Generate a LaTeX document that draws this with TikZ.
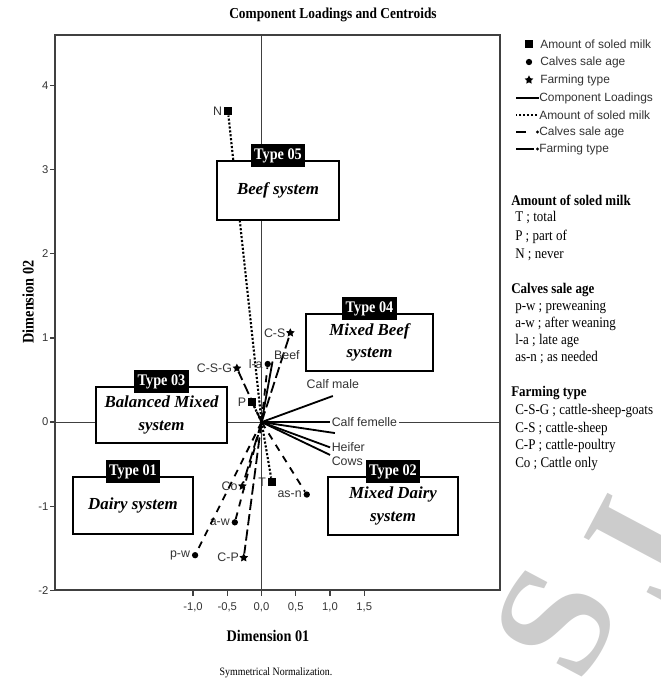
\documentclass[tikz,border=0pt]{standalone}
\usepackage{fontspec}
\setmainfont{Liberation Serif}
\setsansfont{Liberation Sans}
\newfontfamily\condserif[FakeStretch=0.88]{Liberation Serif}
\usetikzlibrary{shapes.geometric,positioning}

\tikzset{
	typebox/.style={draw, line width=1.4pt, fill=white, inner sep=0pt, align=center,
		font=\fontsize{12}{16}\selectfont\bfseries\itshape},
	typetag/.style={fill=black, text=white, inner xsep=2.5pt, inner ysep=0pt, minimum height=16pt,
		anchor=south, yshift=-5pt, font=\condserif\fontsize{11.5}{11.5}\selectfont\bfseries},
	ptlabel/.style={font=\sffamily\fontsize{8.8}{9}\selectfont, text=black!80, inner sep=1pt},
	ticktext/.style={font=\sffamily\fontsize{8}{9}\selectfont, text=black!80, inner sep=1pt},
	milkmark/.style={rectangle, fill, minimum size=5.5pt, inner sep=0pt},
	calfmark/.style={circle, fill, minimum size=4.5pt, inner sep=0pt},
	farmmark/.style={star, star points=5, star point ratio=2, fill, minimum size=6.5pt, inner sep=0pt},
	milkline/.style={line width=1.5pt, dash pattern=on 1.5pt off 1.3pt},
	calfline/.style={line width=1.3pt, dash pattern=on 5pt off 4.5pt},
	farmline/.style={line width=1.3pt, dash pattern=on 8pt off 3pt},
	loadline/.style={line width=1.3pt},
	legtext/.style={font=\sffamily\fontsize{8.5}{9}\selectfont, text=black!80, anchor=west, inner sep=0pt},
	keytext/.style={font=\condserif\fontsize{10.5}{12}\selectfont, anchor=west, inner sep=0pt},
	keyhead/.style={font=\condserif\fontsize{10.5}{12}\selectfont\bfseries, anchor=west, inner sep=0pt},
	wmark/.style={text=black!20, rotate=62, inner sep=0pt, font=\bfseries\fontsize{115}{115}\selectfont},
}

\begin{document}
\begin{tikzpicture}[x=0.025cm, y=-0.025cm]
	\useasboundingbox (0,0) rectangle (661,686);

	% WATERMARK
	\begin{scope}
		\clip (0,0) rectangle (661,686);
		\node[wmark] (wmS) at (556,622) {S};
		\node[wmark] (wmJ) at (638,550) {J};
	\end{scope}

	% TITLE
	\node[font=\condserif\fontsize{10.8}{12}\selectfont\bfseries] (title) at (333,15) {Component Loadings and Centroids};

	%% Frame
	\draw[line width=1pt, black!75] (55,35) rectangle (500,590);

	% y ticks
	\foreach \v in {-2,...,4} {
		\draw[line width=1pt, black!75] (50,{422-84.2*\v}) -- (55,{422-84.2*\v});
		\node[ticktext, anchor=east] (yt\v) at (50,{422-84.2*\v}) {\v};
	}

	% x ticks
	\foreach \v/\t [count=\i] in {-1/{-1,0},-0.5/{-0,5},0/{0,0},0.5/{0,5},1/{1,0},1.5/{1,5}} {
		\draw[line width=1pt, black!75] ({261.5+68.5*\v},590) -- ({261.5+68.5*\v},596);
		\node[ticktext, anchor=north] (xt\i) at ({261.5+68.5*\v},601) {\t};
	}

	% AXIS NAMES
	\node[rotate=90, font=\condserif\fontsize{11.5}{12}\selectfont\bfseries] (dim2) at (28,302) {Dimension 02};
	\node[font=\condserif\fontsize{11.5}{12}\selectfont\bfseries] (dim1) at (268,636) {Dimension 01};
	\node[font=\condserif\fontsize{8}{9}\selectfont] (norm) at (276,673) {Symmetrical Normalization.};

	%%% DATA - one unit = one dimension step
	\begin{scope}[shift={(6.5375cm,-10.55cm)}, x=1.7125cm, y=2.105cm]
		\coordinate (o) at (0,0);

		% reference lines
		\draw[line width=0.8pt, black!75] (0,-2) -- (0,4.6);
		\draw[line width=0.8pt, black!75] (-3.01,0) -- (3.47,0);

		% Amount of soled milk
		\node[milkmark] (mN) at (-0.49,3.69) {};
		\node[milkmark] (mP) at (-0.14,0.24) {};
		\node[milkmark] (mT) at (0.15,-0.71) {};
		\node[ptlabel, left=0pt of mN] (tN) {N};
		\node[ptlabel, left=0pt of mP] (tP) {P};
		\node[ptlabel, left=0pt of mT] (tT) {T};
		\draw[milkline] (o) -- (mN);
		\draw[milkline] (o) -- (mP);
		\draw[milkline] (o) -- (mT);

		% Calves sale age
		\node[calfmark] (mpw) at (-0.97,-1.58) {};
		\node[calfmark] (maw) at (-0.39,-1.19) {};
		\node[calfmark] (mla) at (0.09,0.69) {};
		\node[calfmark] (masn) at (0.66,-0.86) {};
		\node[ptlabel, left=0pt of mpw] (tpw) {p-w};
		\node[ptlabel, left=0pt of maw] (taw) {a-w};
		\node[ptlabel, left=0pt of mla] (tla) {l-a};
		\node[ptlabel, left=0pt of masn] (tasn) {as-n};
		\draw[calfline] (o) -- (mpw);
		\draw[calfline] (o) -- (maw);
		\draw[calfline] (o) -- (mla);
		\draw[calfline] (o) -- (masn);

		% Farming type
		\node[farmmark] (mcsg) at (-0.36,0.64) {};
		\node[farmmark] (mcs) at (0.42,1.06) {};
		\node[farmmark] (mcp) at (-0.26,-1.61) {};
		\node[farmmark] (mco) at (-0.28,-0.76) {};
		\node[ptlabel, left=0pt of mcsg] (tcsg) {C-S-G};
		\node[ptlabel, left=0pt of mcs] (tcs) {C-S};
		\node[ptlabel, left=0pt of mcp] (tcp) {C-P};
		\node[ptlabel, left=0pt of mco] (tco) {Co};
		\draw[farmline] (o) -- (mcsg);
		\draw[farmline] (o) -- (mcs);
		\draw[farmline] (o) -- (mcp);
		\draw[farmline] (o) -- (mco);

		% Component loadings
		\coordinate (lbeef) at (0.16,0.72);
		\coordinate (lmale) at (1.04,0.31);
		\coordinate (lfem) at (1.0,0.0);
		\coordinate (lfem2) at (1.07,-0.13);
		\coordinate (lheif) at (1.0,-0.30);
		\coordinate (lcows) at (1.0,-0.39);
		\foreach \l in {lbeef,lmale,lfem,lfem2,lheif,lcows}
			\draw[loadline] (o) -- (\l);
		\node[ptlabel, anchor=south west] (tbeef) at (lbeef) {Beef};
		\node[ptlabel, anchor=south, yshift=4pt] (tmale) at (lmale) {Calf male};
		\node[ptlabel, anchor=west, fill=white] (tfem) at (lfem) {Calf femelle};
		\node[ptlabel, anchor=west] (theif) at (lheif) {Heifer};
		\node[ptlabel, anchor=north west] (tcows) at (lcows) {Cows};
	\end{scope}

	% TYPE 05
	\node[typebox, minimum width=3.05cm, minimum height=1.475cm] (beef) at (278,190.5) {Beef system};
	\node[typetag] (tag05) at (beef.north) {Type 05};

	% TYPE 04
	\node[typebox, minimum width=3.175cm, minimum height=1.425cm] (mixbeef) at (369.5,342.5) {Mixed Beef\\system};
	\node[typetag] (tag04) at (mixbeef.north) {Type 04};

	% TYPE 03
	\node[typebox, minimum width=3.275cm, minimum height=1.4cm] (balanced) at (161.5,415) {Balanced Mixed\\system};
	\node[typetag] (tag03) at (balanced.north) {Type 03};

	% TYPE 01
	\node[typebox, minimum width=3.0cm, minimum height=1.425cm] (dairy) at (133,505.5) {Dairy system};
	\node[typetag] (tag01) at (dairy.north) {Type 01};

	% TYPE 02
	\node[typebox, minimum width=3.25cm, minimum height=1.45cm] (mixdairy) at (393,506) {Mixed Dairy\\system};
	\node[typetag] (tag02) at (mixdairy.north) {Type 02};

	%% LEGEND - symbols
	\node[milkmark] (k1) at (529,44) {};
	\node[calfmark] (k2) at (529,62) {};
	\node[farmmark] (k3) at (529,80) {};
	\node[legtext] (lg1) at (540,44) {Amount of soled milk};
	\node[legtext] (lg2) at (540,62) {Calves sale age};
	\node[legtext] (lg3) at (540,80) {Farming type};
	\node[legtext] (lg4) at (539,98) {Component Loadings};
	\node[legtext] (lg5) at (539,115) {Amount of soled milk};
	\node[legtext] (lg6) at (539,132) {Calves sale age};
	\node[legtext] (lg7) at (539,149) {Farming type};
	\draw[line width=1.3pt] (lg4.west) -- ++(-23,0);
	\draw[milkline] (lg5.west) ++(-2,0) -- ++(-21,0);
	\draw[line width=1.3pt] (lg6.west) ++(-13,0) -- ++(-10,0);
	\fill (lg6.west) ++(-1.5,0) circle (1.2pt);
	\draw[line width=1.3pt] (lg7.west) ++(-5,0) -- ++(-18,0);
	\fill (lg7.west) ++(-1.5,0) circle (1.2pt);

	%% KEY - abbreviations
	\node[keyhead] (hmilk) at (511,200) {Amount of soled milk};
	\node[keytext] (kT) at (515,218) {T ; total};
	\node[keytext] (kP) at (515,237) {P ; part of};
	\node[keytext] (kN) at (515,255) {N ; never};

	\node[keyhead] (hcalf) at (511,290) {Calves sale age};
	\node[keytext] (kpw) at (515,307) {p-w ; preweaning};
	\node[keytext] (kaw) at (515,324) {a-w ; after weaning};
	\node[keytext] (kla) at (515,341) {l-a ; late age};
	\node[keytext] (kasn) at (515,358) {as-n ; as needed};

	\node[keyhead] (hfarm) at (511,393) {Farming type};
	\node[keytext] (kcsg) at (515,411) {C-S-G ; cattle-sheep-goats};
	\node[keytext] (kcs) at (515,429) {C-S ; cattle-sheep};
	\node[keytext] (kcp) at (515,446) {C-P ; cattle-poultry};
	\node[keytext] (kco) at (515,464) {Co ; Cattle only};
\end{tikzpicture}
\end{document}
